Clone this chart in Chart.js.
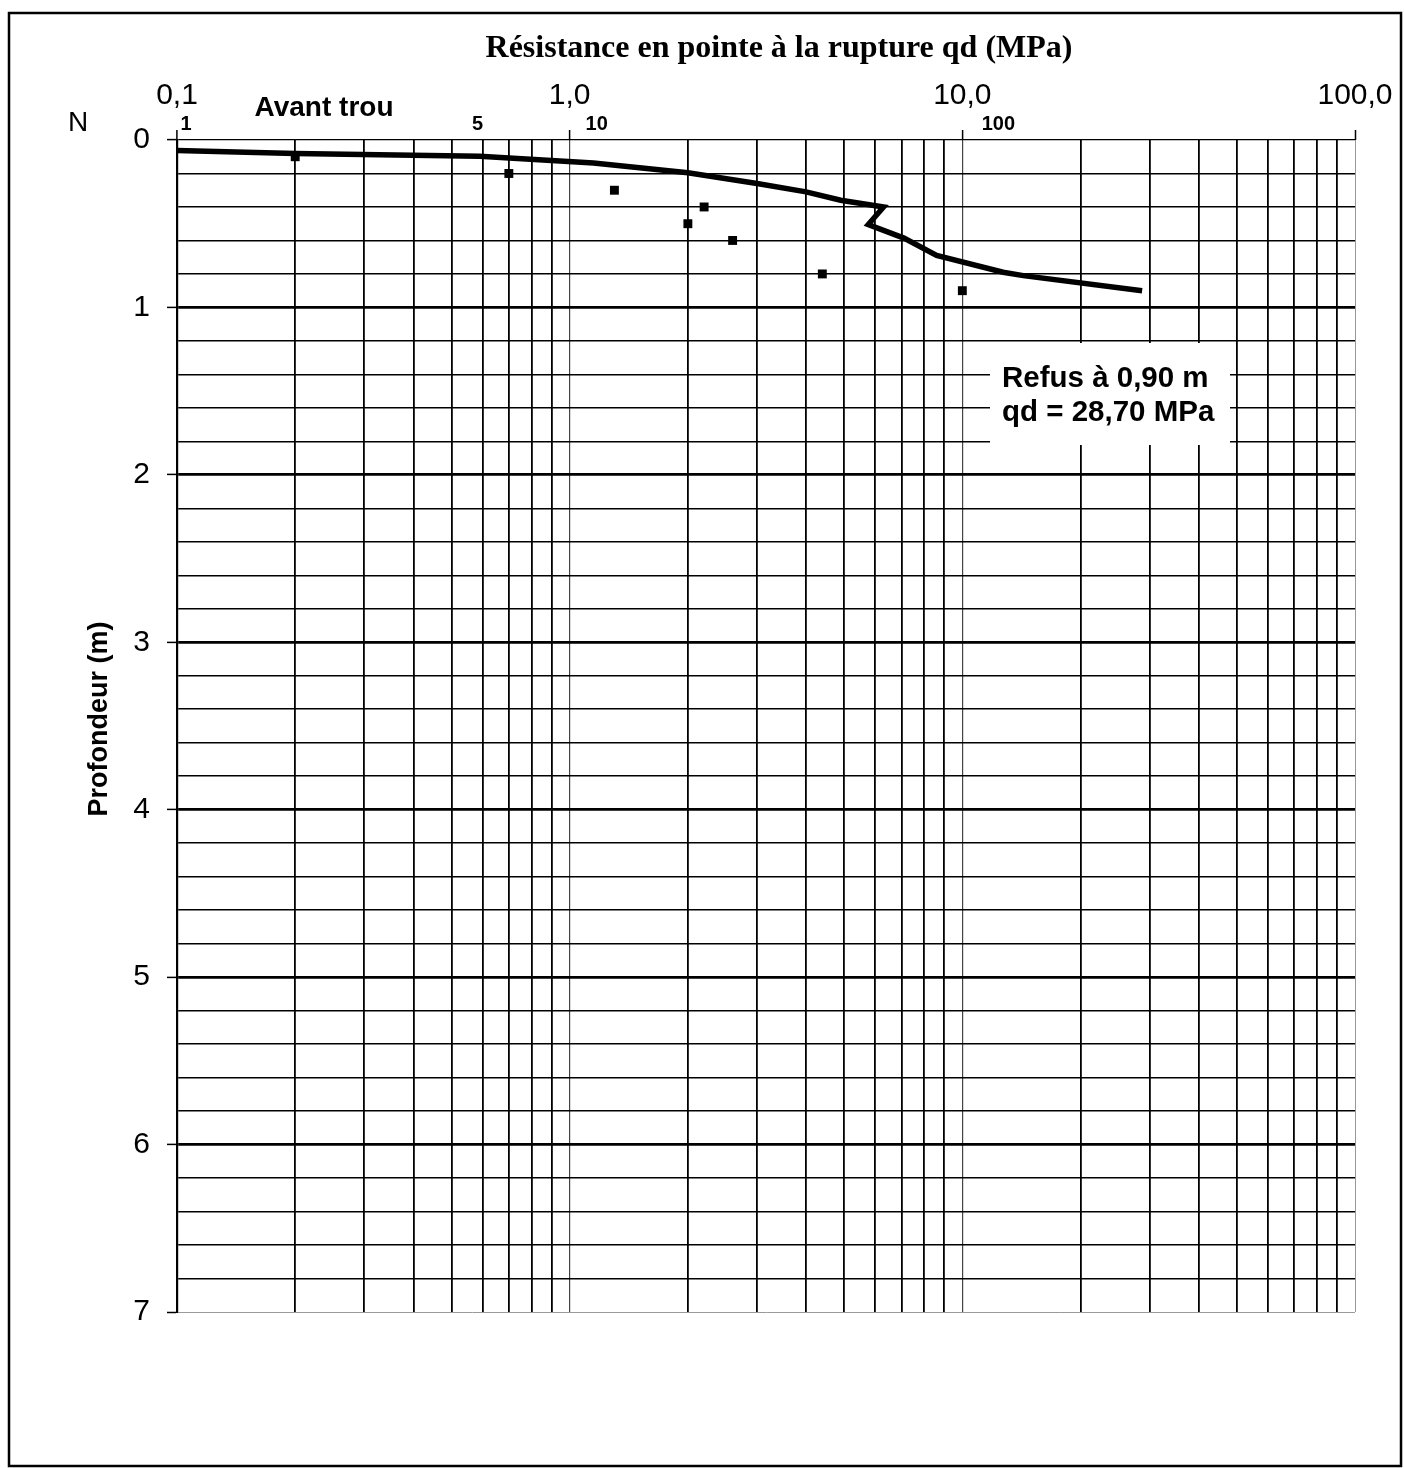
<!DOCTYPE html>
<html lang="fr">
<head>
<meta charset="utf-8">
<title>Pénétromètre - résistance en pointe</title>
<script src="https://cdn.jsdelivr.net/npm/chart.js@4.4.1/dist/chart.umd.min.js"></script>
<style>
  html, body { margin: 0; padding: 0; background: #fff; }
  canvas { display: block; }
</style>
</head>
<body>
<canvas id="chart" width="1404" height="1468"></canvas>
<script>
// qd (MPa) against depth (m), the thick curve
const qdValues = [0.1, 0.2, 0.59, 1.15, 2.0, 3.0, 4.0, 4.9, 6.3, 5.76, 7.1, 8.6, 12.7, 14.3, 28.7];
const qdDepths = [0.063, 0.08, 0.097, 0.137, 0.196, 0.26, 0.31, 0.36, 0.40, 0.505, 0.586, 0.69, 0.79, 0.81, 0.90];

// blow counts N against depth (m), the small squares
const blowCounts = [2, 7, 13, 22, 20, 26, 44, 100];
const blowDepths = [0.1, 0.2, 0.3, 0.4, 0.5, 0.6, 0.8, 0.9];

// axis labels
const qdMajorTicks = [0.1, 1, 10, 100];
const qdMajorLabels = ["0,1", "1,0", "10,0", "100,0"];
const nTickValues = [1, 5, 10, 100];
const depthMin = 0;
const depthMax = 7;
const depthStep = 0.2;

// N scale sits on the qd scale: N = 1 at qd = 0.1
const N_TO_QD = 0.1;

// all 1..9 lines in each decade
const qdGridValues = [];
[0.1, 1, 10].forEach(d => {
  for (let k = 1; k <= 9; k++) qdGridValues.push(+(k * d).toPrecision(3));
});
qdGridValues.push(100);

const near = (a, b) => Math.abs(a - b) < 1e-6;
const isMajorQd = v => qdMajorTicks.some(m => near(v, m));
const isInt = v => near(v, Math.round(v));
const frNum = (v, d) => v.toFixed(d).replace(".", ",");

const lineData = qdValues.map((q, i) => ({ x: q, y: qdDepths[i] }));
const blowData = blowCounts.map((n, i) => ({ x: n * N_TO_QD, y: blowDepths[i] }));

const SANS = "'Liberation Sans', Arial, sans-serif";
const SERIF = "'Liberation Serif', 'Times New Roman', serif";

const decorations = {
  id: "decorations",
  afterDraw(chart) {
    const ctx = chart.ctx;
    const xs = chart.scales.x;
    ctx.save();
    ctx.fillStyle = "#000";
    ctx.textBaseline = "middle";

    // title
    ctx.textAlign = "center";
    ctx.font = "bold 32px " + SERIF;
    ctx.fillText("Résistance en pointe à la rupture qd (MPa)", 779, 49);

    // N scale row
    ctx.font = "28px " + SANS;
    ctx.fillText("N", 78, 123);
    ctx.font = "bold 20px " + SANS;
    const nOffsets = [9, 26, 27, 36];
    nTickValues.forEach((n, i) => {
      ctx.fillText(String(n), xs.getPixelForValue(n * N_TO_QD) + nOffsets[i], 124);
    });

    ctx.font = "bold 28px " + SANS;
    ctx.fillText("Avant trou", 324, 108);

    // y axis title
    ctx.save();
    ctx.translate(100, 719);
    ctx.rotate(-Math.PI / 2);
    ctx.font = "bold 27px " + SANS;
    ctx.fillText("Profondeur (m)", 0, 0);
    ctx.restore();

    // refusal note in a white box
    const lastDepth = qdDepths[qdDepths.length - 1];
    const lastQd = qdValues[qdValues.length - 1];
    ctx.fillStyle = "#fff";
    ctx.fillRect(990, 343, 240, 102);
    ctx.fillStyle = "#000";
    ctx.textAlign = "left";
    ctx.font = "bold 29.5px " + SANS;
    ctx.fillText("Refus à " + frNum(lastDepth, 2) + " m", 1002, 379);
    ctx.fillText("qd = " + frNum(lastQd, 2) + " MPa", 1002, 413);

    // page frame
    ctx.strokeStyle = "#000";
    ctx.lineWidth = 2.5;
    ctx.strokeRect(9, 13, 1392, 1453);
    ctx.restore();
  }
};

new Chart(document.getElementById("chart"), {
  type: "scatter",
  data: {
    datasets: [
      {
        label: "qd",
        data: lineData,
        showLine: true,
        borderColor: "#000",
        borderWidth: 5.5,
        pointRadius: 0,
        tension: 0,
        borderJoinStyle: "miter",
        clip: 6
      },
      {
        label: "N",
        data: blowData,
        backgroundColor: "#000",
        borderColor: "#000",
        pointStyle: "rect",
        pointRadius: 6.3,
        borderWidth: 0
      }
    ]
  },
  options: {
    responsive: false,
    animation: false,
    devicePixelRatio: 1,
    layout: { padding: { left: 0, top: 0, right: 49, bottom: 156 } },
    plugins: {
      legend: { display: false },
      tooltip: { enabled: false }
    },
    scales: {
      x: {
        type: "logarithmic",
        position: "top",
        min: 0.1,
        max: 100,
        afterBuildTicks: scale => {
          scale.ticks = qdGridValues.map(v => ({ value: v }));
        },
        afterFit: scale => {
          scale.height = 140;
          scale.paddingLeft = 0;
          scale.paddingRight = 0;
        },
        ticks: {
          autoSkip: false,
          maxRotation: 0,
          padding: 16,
          color: "#000",
          font: { family: SANS, size: 30 },
          callback: v => {
            const i = qdMajorTicks.findIndex(m => near(v, m));
            return i >= 0 ? qdMajorLabels[i] : "";
          }
        },
        grid: {
          tickLength: 10,
          tickWidth: 1.5,
          tickColor: c => (c.tick && isMajorQd(c.tick.value) ? "#000" : "rgba(0,0,0,0)"),
          color: c => {
            if (!c.tick) return "#000";
            if (near(c.tick.value, 100)) return "#999";
            if (near(c.tick.value, 1) || near(c.tick.value, 10)) return "#444";
            return "#000";
          },
          lineWidth: c => {
            if (!c.tick) return 1.5;
            if (near(c.tick.value, 100)) return 1;
            if (near(c.tick.value, 1) || near(c.tick.value, 10)) return 1.2;
            return 1.8;
          }
        },
        border: { display: false }
      },
      y: {
        type: "linear",
        reverse: true,
        min: depthMin,
        max: depthMax,
        afterFit: scale => {
          scale.width = 177;
          scale.paddingTop = 0;
          scale.paddingBottom = 0;
        },
        ticks: {
          stepSize: depthStep,
          autoSkip: false,
          padding: 17,
          color: "#000",
          font: { family: SANS, size: 30 },
          callback: v => (isInt(v) ? String(Math.round(v)) : "")
        },
        grid: {
          tickLength: 10,
          tickWidth: 1.5,
          tickColor: c => (c.tick && isInt(c.tick.value) ? "#000" : "rgba(0,0,0,0)"),
          color: c => {
            if (!c.tick) return "#000";
            if (near(c.tick.value, depthMax)) return "#999";
            return "#000";
          },
          lineWidth: c => {
            if (!c.tick) return 1.5;
            const v = c.tick.value;
            if (near(v, depthMax)) return 1;
            if (near(v, 0)) return 1.2;
            return isInt(v) ? 2.8 : 1.6;
          }
        },
        border: { display: true, color: "#000", width: 2.2 }
      }
    }
  },
  plugins: [decorations]
});
</script>
</body>
</html>
